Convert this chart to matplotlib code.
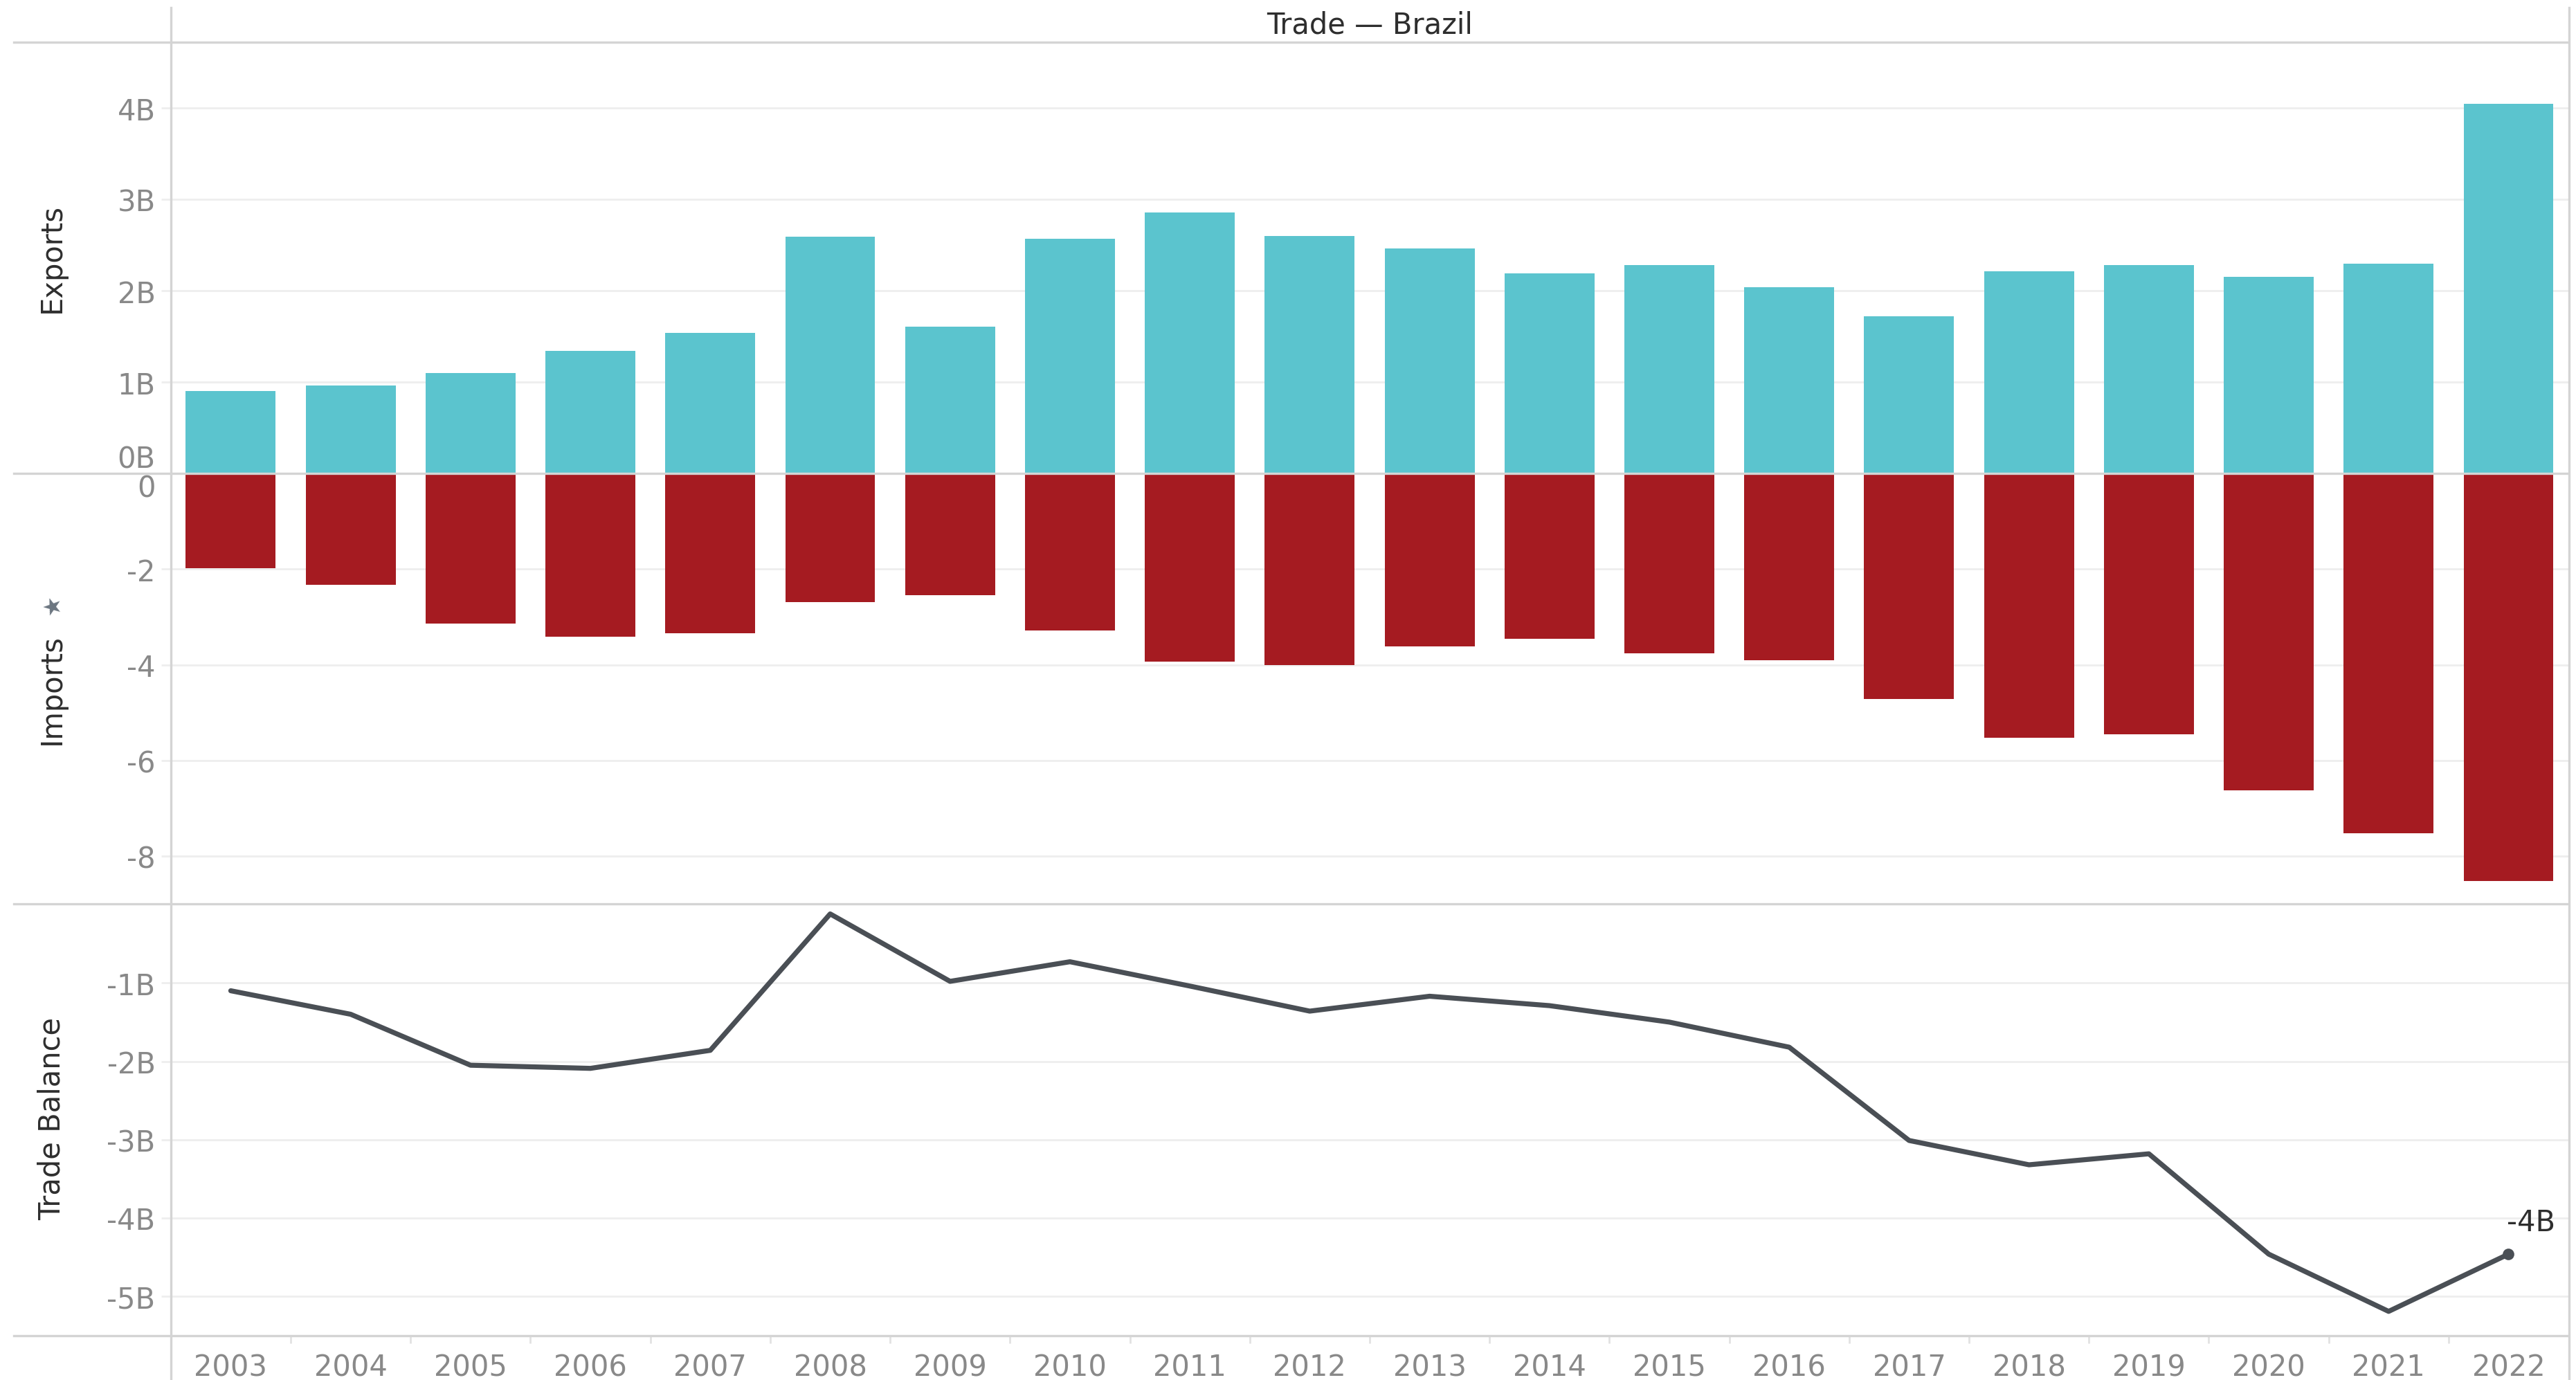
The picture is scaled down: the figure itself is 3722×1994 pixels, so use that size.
import matplotlib
matplotlib.use('Agg')
import matplotlib.pyplot as plt
from matplotlib.lines import Line2D

# values (billions)
years = ['2003', '2004', '2005', '2006', '2007', '2008', '2009', '2010', '2011', '2012',
         '2013', '2014', '2015', '2016', '2017', '2018', '2019', '2020', '2021', '2022']
exports = [0.90, 0.96, 1.10, 1.34, 1.54, 2.59, 1.61, 2.57, 2.86, 2.60,
           2.46, 2.19, 2.28, 2.04, 1.72, 2.21, 2.28, 2.15, 2.30, 4.05]
imports = [-1.98, -2.33, -3.14, -3.41, -3.34, -2.69, -2.55, -3.28, -3.93, -4.00,
           -3.62, -3.45, -3.76, -3.90, -4.72, -5.52, -5.45, -6.62, -7.52, -8.52]
balance = [-1.10, -1.40, -2.05, -2.09, -1.86, -0.12, -0.98, -0.73, -1.04, -1.36,
           -1.17, -1.29, -1.50, -1.82, -3.01, -3.32, -3.18, -4.46, -5.19, -4.46]

exp_ticks = [0, 1, 2, 3, 4]
exp_labels = ['0B', '1B', '2B', '3B', '4B']
imp_ticks = [0, -2, -4, -6, -8]
imp_labels = ['0', '-2', '-4', '-6', '-8']
bal_ticks = [-1, -2, -3, -4, -5]
bal_labels = ['-1B', '-2B', '-3B', '-4B', '-5B']

teal = '#5bc4ce'
red = '#a51b21'
line_col = '#4a4f55'
sep = '#d4d4d4'
grid = '#eeeeee'
tick_col = '#898989'
dark = '#2e2e2e'

plt.rcParams['font.family'] = ['DejaVu Sans']

fig = plt.figure(figsize=(3723 / 200, 1994.9 / 200), dpi=200)
fig.patch.set_facecolor('white')

left, width = 0.0663, 0.9305
ax1 = fig.add_axes([left, 0.6566, width, 0.3123])
ax2 = fig.add_axes([left, 0.3449, width, 0.3117])
ax3 = fig.add_axes([left, 0.0321, width, 0.3123])

xs = list(range(len(years)))

ax1.bar(xs, exports, width=0.75, color=teal, zorder=2)
ax2.bar(xs, imports, width=0.75, color=red, zorder=2)
ax3.plot(xs, balance, color=line_col, lw=2.6, solid_capstyle='round', zorder=3)
ax3.plot(xs[-1], balance[-1], 'o', color=line_col, ms=5, zorder=4)
ax3.annotate('-4B', (xs[-1], balance[-1]), xytext=(-1, 9), textcoords='offset points',
             ha='left', va='bottom', fontsize=15, color=dark)

ax1.set_ylim(0, 4.72)
ax2.set_ylim(-9.0, 0)
ax3.set_ylim(-5.5, 0)

for ax, t, l in [(ax1, exp_ticks, exp_labels), (ax2, imp_ticks, imp_labels), (ax3, bal_ticks, bal_labels)]:
    ax.set_xlim(-0.5, len(years) - 0.5)
    ax.set_yticks(t)
    ax.set_yticklabels(l)
    ax.yaxis.grid(True, color=grid, lw=1.0)
    ax.set_axisbelow(True)
    ax.tick_params(axis='y', length=5, width=1.0, color=grid, pad=3,
                   labelsize=15, labelcolor=tick_col)
    for s in ax.spines.values():
        s.set_visible(False)
    ax.set_facecolor('none')

for ax in (ax1, ax2):
    ax.set_xticks([])

ax3.set_xticks(xs)
ax3.set_xticklabels(years)
ax3.set_xticks([i + 0.5 for i in xs[:-1]], minor=True)
ax3.tick_params(axis='x', which='major', length=0, pad=9, labelsize=15, labelcolor=tick_col)
ax3.tick_params(axis='x', which='minor', length=4, width=1.0, color='#e2e2e2')

# nudge the zero labels away from the pane separator, as in the reference
lab0 = ax1.get_yticklabels()[0]
lab0.set_va('bottom')
lab1 = ax2.get_yticklabels()[0]
lab1.set_va('top')
lab1.set_y(-0.2)

# pane separators
x0, x1 = 20 / 3723, 3711 / 3723
for yy in [62, 685, 1307, 1931]:
    fy = 1 - yy / 1995
    fig.add_artist(Line2D([x0, x1], [fy, fy], transform=fig.transFigure, color=sep, lw=1.2))
for xx in [247, 3712]:
    fx = xx / 3723
    fig.add_artist(Line2D([fx, fx], [0, 1 - 12 / 1995], transform=fig.transFigure, color=sep, lw=1.2))

fig.text(1979 / 3723, 1 - 37 / 1995, 'Trade \u2014 Brazil', ha='center', va='center',
         fontsize=15, color=dark)
fig.text(0.0201, 1 - 373 / 1995, 'Exports', rotation=90, ha='center', va='center',
         fontsize=15, color=dark)
fig.text(0.0201, 1 - 996 / 1995, 'Imports', rotation=90, ha='center', va='center',
         fontsize=15, color=dark)
fig.text(0.0201, 1 - 1617 / 1995, 'Trade Balance', rotation=90, ha='center', va='center',
         fontsize=15, color=dark)
# little pin glyph next to the Imports title
fig.text(0.0205, 1 - 878 / 1995, '\u2605', rotation=20, ha='center', va='center',
         fontsize=12, color='#6b7580')

fig.savefig('out.png', dpi=200, facecolor='white')
